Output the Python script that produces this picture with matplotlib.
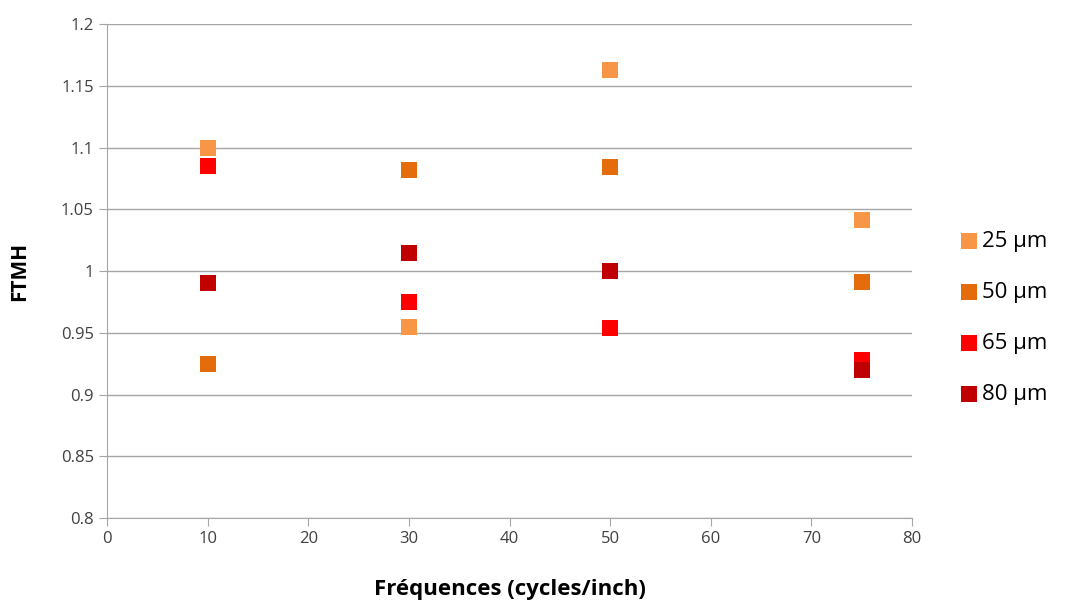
import matplotlib
matplotlib.use('Agg')
import matplotlib.pyplot as plt

# Données
frequences = [10, 30, 50, 75]
ftmh_25 = [1.100, 0.955, 1.163, 1.041]
ftmh_50 = [0.925, 1.082, 1.084, 0.991]
ftmh_65 = [1.085, 0.975, 0.954, 0.928]
ftmh_80 = [0.990, 1.015, 1.000, 0.920]

series = [
    ('25 µm', ftmh_25, '#F79646'),
    ('50 µm', ftmh_50, '#E46C0A'),
    ('65 µm', ftmh_65, '#FF0000'),
    ('80 µm', ftmh_80, '#C00000'),
]

plt.rcParams['font.family'] = ['Open Sans', 'DejaVu Sans']

fig = plt.figure(figsize=(10.73, 6.01), dpi=100)
ax = fig.add_axes([0.0997, 0.138, 0.7503, 0.822])

for label, vals, color in series:
    ax.scatter(frequences, vals, marker='s', s=120, color=color,
               label=label, zorder=3, linewidths=0)

ax.set_xlim(0, 80)
ax.set_ylim(0.8, 1.2)
ax.set_xticks(range(0, 81, 10))
ax.set_yticks([0.8, 0.85, 0.9, 0.95, 1, 1.05, 1.1, 1.15, 1.2])
ax.set_yticklabels(['0.8', '0.85', '0.9', '0.95', '1', '1.05', '1.1', '1.15', '1.2'])

ax.grid(axis='y', color='#A6A6A6', linewidth=1)
ax.set_axisbelow(True)
for side in ['top', 'right']:
    ax.spines[side].set_visible(False)
for side in ['left', 'bottom']:
    ax.spines[side].set_color('#A6A6A6')
ax.tick_params(axis='both', colors='#A6A6A6', labelcolor='#404040',
               labelsize=12, length=6)

ax.set_xlabel('Fréquences (cycles/inch)', fontsize=16, fontweight='bold',
              labelpad=23)
ax.set_ylabel('FTMH', fontsize=15, fontweight='bold', labelpad=22)

ax.legend(loc='center left', bbox_to_anchor=(1.035, 0.405), frameon=False,
          fontsize=16, labelspacing=1.35, handletextpad=0.2,
          handlelength=0.8, markerscale=1.0)

plt.savefig('out.png', dpi=100)
